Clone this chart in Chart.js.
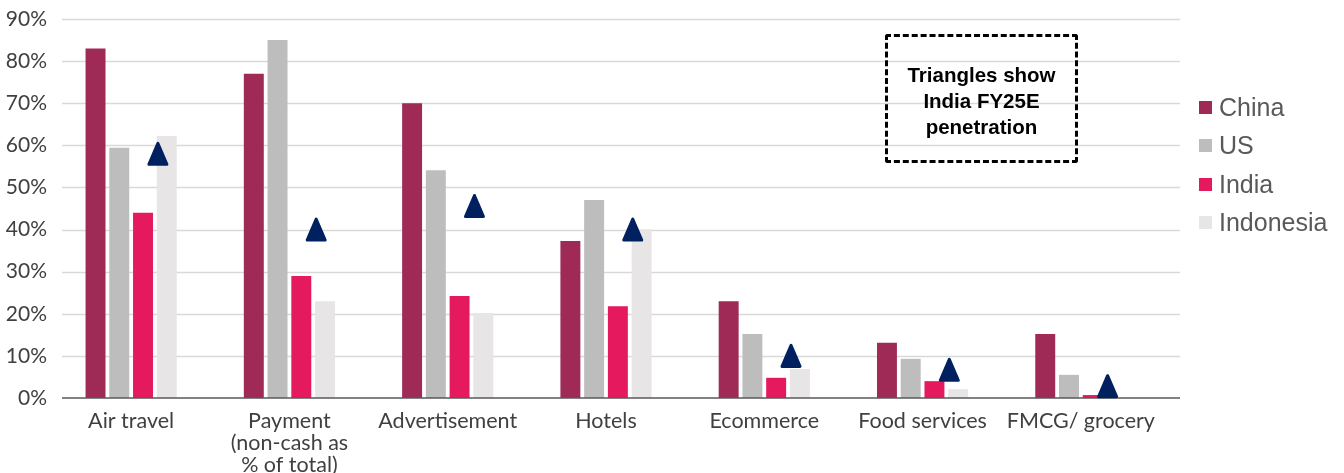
<!DOCTYPE html>
<html>
<head>
<meta charset="utf-8">
<script src="https://cdn.jsdelivr.net/npm/chart.js@4.4.1/dist/chart.umd.min.js"></script>
<style>
  html, body { margin: 0; padding: 0; background: #fff; }
  #wrap { position: relative; width: 1344px; height: 473px; }
  .note {
    position: absolute; left: 885px; top: 34px; width: 187px; height: 119px;
    border: 3px dashed #000; border-radius: 3px;
    display: flex; align-items: center; justify-content: center; text-align: center;
    font: bold 20.5px 'Liberation Sans', Arial, sans-serif; line-height: 26px; color: #000;
    padding-top: 4px; box-sizing: content-box;
  }
  #legend { position: absolute; left: 1199px; top: 88px; font: 25px 'Liberation Sans', Arial, sans-serif; color: #595959; }
  #legend .item { display: flex; align-items: center; height: 38.5px; }
  #legend .sw { width: 13px; height: 13px; margin-right: 7px; }
</style>
</head>
<body>
<div id="wrap">
  <canvas id="c"></canvas>
  <div class="note">Triangles show<br>India FY25E<br>penetration</div>
  <div id="legend"></div>
</div>
<script>
const CATEGORIES = [
  'Air travel',
  ['Payment', '(non-cash as', '% of total)'],
  'Advertisement',
  'Hotels',
  'Ecommerce',
  'Food services',
  'FMCG/ grocery'
];
const SERIES = ['China', 'US', 'India', 'Indonesia'];
const CHINA = [83, 77, 70, 37.3, 23, 13.1, 15.2];
const US = [59.4, 85, 54.1, 47, 15.2, 9.3, 5.5];
const INDIA = [44, 29, 24.2, 21.8, 4.8, 4, 0.7];
const INDONESIA = [62.2, 23, 20.2, 40.1, 6.9, 2.1, 0];
// India FY25E penetration (triangles)
const INDIA_FY25E = [58, 40, 45.6, 40, 10, 6.7, 2.8];
const Y_MAX = 90;
const Y_STEP = 10;

const COLORS = ['#9E2A55', '#BDBDBD', '#E5195E', '#E7E5E6'];
const GRID_COL = '#D9D9D9';
const AXIS_COL = '#595959';
const NAVY = '#002060';

// gridlines reach a bit past the bars on both ends, like the source
const gridPlugin = {
  id: 'grid',
  beforeDatasetsDraw(chart) {
    const { ctx, chartArea: a, scales: { y } } = chart;
    ctx.save();
    ctx.strokeStyle = GRID_COL;
    ctx.lineWidth = 1.5;
    y.ticks.forEach(t => {
      if (t.value === 0) return;
      const py = Math.round(y.getPixelForValue(t.value)) + 0.5;
      ctx.beginPath();
      ctx.moveTo(a.left + 10, py);
      ctx.lineTo(a.right + 20, py);
      ctx.stroke();
    });
    ctx.restore();
  },
  afterDatasetsDraw(chart) {
    const { ctx, chartArea: a, scales: { y } } = chart;
    ctx.save();
    ctx.strokeStyle = AXIS_COL;
    ctx.lineWidth = 1.5;
    const py = y.getPixelForValue(0);
    ctx.beginPath();
    ctx.moveTo(a.left + 10, py);
    ctx.lineTo(a.right + 20, py);
    ctx.stroke();
    ctx.restore();
  }
};

const trianglePlugin = {
  id: 'triangles',
  afterDatasetsDraw(chart) {
    const { ctx, scales: { y } } = chart;
    const india = chart.getDatasetMeta(2).data;
    const indo = chart.getDatasetMeta(3).data;
    ctx.save();
    ctx.fillStyle = NAVY;
    ctx.strokeStyle = NAVY;
    ctx.lineWidth = 3;
    ctx.lineJoin = 'round';
    INDIA_FY25E.forEach((v, i) => {
      const cx = (india[i].x + indo[i].x) / 2 + 3;
      const cy = y.getPixelForValue(v);
      const w = 18, h = 21;
      ctx.beginPath();
      ctx.moveTo(cx, cy - h / 2);
      ctx.lineTo(cx + w / 2, cy + h / 2);
      ctx.lineTo(cx - w / 2, cy + h / 2);
      ctx.closePath();
      ctx.fill();
      ctx.stroke();
    });
    ctx.restore();
  }
};

const values = [CHINA, US, INDIA, INDONESIA];

new Chart(document.getElementById('c'), {
  type: 'bar',
  data: {
    labels: CATEGORIES,
    datasets: SERIES.map((name, i) => ({
      label: name,
      data: values[i],
      backgroundColor: COLORS[i],
      borderWidth: 0,
      barPercentage: 0.84,
      categoryPercentage: 0.6
    }))
  },
  options: {
    responsive: true,
    maintainAspectRatio: false,
    animation: false,
    layout: { padding: { top: 19, right: 184, bottom: 0, left: 0 } },
    plugins: { legend: { display: false }, tooltip: { enabled: false } },
    scales: {
      x: {
        grid: { display: false, drawTicks: false },
        border: { display: false },
        ticks: {
          color: '#404040',
          font: { family: 'Lato', size: 21.5, lineHeight: 1.02 },
          padding: 12,
          maxRotation: 0,
          autoSkip: false
        },
        afterFit: s => { s.height = 75; }
      },
      y: {
        min: 0,
        max: Y_MAX,
        grid: { display: false, drawTicks: false },
        border: { display: false },
        ticks: {
          stepSize: Y_STEP,
          color: '#404040',
          padding: 5,
          font: { family: 'Lato', size: 21 },
          callback: v => v + '%'
        },
        afterFit: s => { s.width = 52; }
      }
    }
  },
  plugins: [gridPlugin, trianglePlugin]
});

document.getElementById('legend').innerHTML = SERIES.map((name, i) =>
  `<div class="item"><span class="sw" style="background:${COLORS[i]}"></span>${name}</div>`
).join('');
</script>
</body>
</html>
